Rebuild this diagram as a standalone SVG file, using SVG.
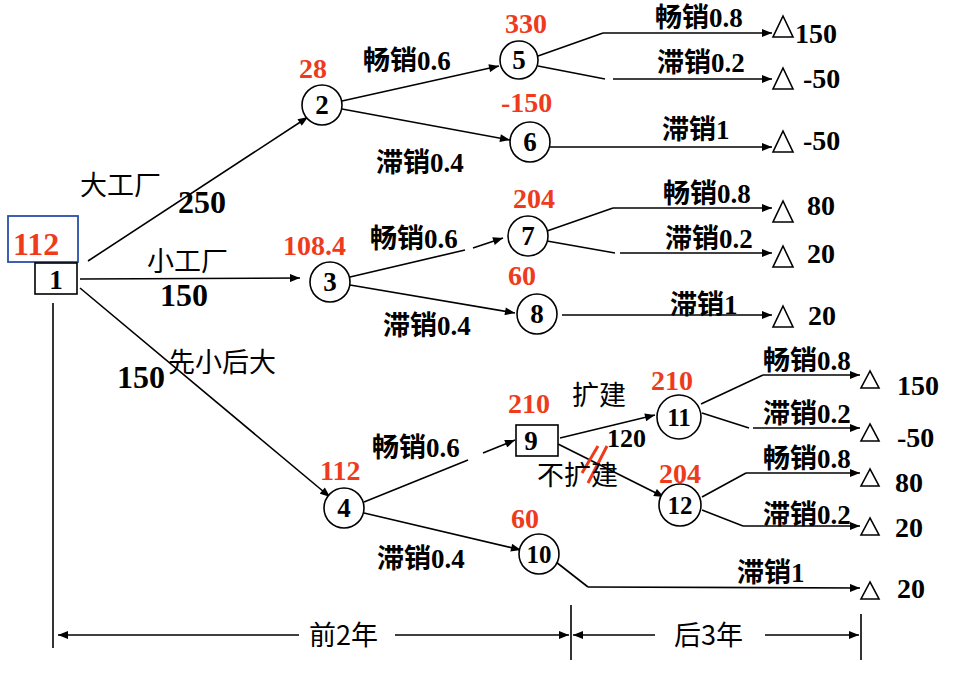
<svg xmlns="http://www.w3.org/2000/svg" width="957" height="680" viewBox="0 0 957 680">
<defs>
<marker id="ah" viewBox="0 0 10 8" refX="10" refY="4" markerWidth="11" markerHeight="8" markerUnits="userSpaceOnUse" orient="auto">
<path d="M0,0 L10,4 L0,8 Z" fill="#000"/>
</marker>
<style>
.ln{stroke:#000;stroke-width:1.6;fill:none}
.ar{stroke:#000;stroke-width:1.6;fill:none;marker-end:url(#ah)}
.nd{stroke:#000;stroke-width:1.6;fill:#fff}
.tri{stroke:#000;stroke-width:1.6;fill:#fff}
.num{font-family:"Liberation Serif","Noto Sans CJK SC",serif;font-weight:bold;font-size:27px;fill:#000;text-anchor:middle}
.lab{font-family:"Liberation Serif","Noto Sans CJK SC",serif;font-weight:bold;font-size:27px;fill:#000}
.red{font-family:"Liberation Serif",serif;font-weight:bold;font-size:28px;fill:#ee3b1c}
.big{font-family:"Liberation Serif",serif;font-weight:bold;font-size:32px;fill:#000}
.cn{font-family:"Noto Sans CJK SC",sans-serif;font-size:27px;fill:#000}
.val{font-family:"Liberation Serif",serif;font-weight:bold;font-size:28px;fill:#000}
</style>
</defs>
<rect width="957" height="680" fill="#fff"/>

<g id="connectors">
<path class="ln" d="M53,303 L53,648"/>
<path class="ar" d="M88,261 L308,117"/>
<path class="ar" d="M80,279 L300,278"/>
<path class="ar" d="M80,288 L330,497"/>
<path class="ar" d="M342,101 L499,66"/>
<path class="ar" d="M342,109 L510,140"/>
<path class="ln" d="M538,56 L603,33"/>
<path class="ar" d="M603,33 L772,33"/>
<path class="ln" d="M538,66 L605,79"/>
<path class="ar" d="M613,79 L772,79"/>
<path class="ar" d="M550,147 L772,147"/>
<path class="ln" d="M350,277 L465,250"/>
<path class="ar" d="M473,248 L503,238"/>
<path class="ar" d="M350,285 L515,313"/>
<path class="ln" d="M547,231 L613,208"/>
<path class="ar" d="M613,208 L772,208"/>
<path class="ln" d="M547,241 L615,253"/>
<path class="ar" d="M620,253 L772,253"/>
<path class="ar" d="M562,315 L772,315"/>
<path class="ln" d="M364,502 L468,460"/>
<path class="ar" d="M483,453 L515,440"/>
<path class="ar" d="M364,513 L521,550"/>
<path class="ar" d="M560,438 L655,415"/>
<path class="ar" d="M558,444 L664,497"/>
<path d="M582,473 L598,446 M588,483 L607,446" stroke="#ee3b1c" stroke-width="3" fill="none"/>
<path class="ln" d="M701,404 L763,375"/>
<path class="ar" d="M763,375 L860,375"/>
<path class="ln" d="M702,413 L749,428"/>
<path class="ar" d="M753,428 L860,428"/>
<path class="ln" d="M702,497 L746,473"/>
<path class="ar" d="M746,473 L860,473"/>
<path class="ln" d="M702,510 L743,526"/>
<path class="ar" d="M743,526 L860,526"/>
<path class="ln" d="M556,562 L588,587"/>
<path class="ar" d="M588,587 L860,588"/>
<path class="ar" d="M299,635 L58,635"/>
<path class="ar" d="M395,635 L569,635"/>
<path class="ar" d="M655,635 L573,635"/>
<path class="ar" d="M765,635 L859,635"/>
<path class="ln" d="M571,605 L571,660"/>
<path class="ln" d="M861,614 L861,660"/>
</g>

<g id="node1">
<rect x="8" y="216" width="70" height="46" fill="#fff" stroke="#2a4fa8" stroke-width="1.8"/>
<text class="red" x="13" y="255" style="font-size:32px">112</text>
<rect class="nd" x="35" y="263" width="42" height="31"/>
<text class="num" x="56" y="289">1</text>
</g>
<g id="node2"><circle class="nd" cx="322" cy="105" r="20"/><text class="num" x="322" y="114">2</text><text class="red" x="299" y="78">28</text></g>
<g id="node3"><circle class="nd" cx="330" cy="282" r="20"/><text class="num" x="330" y="291">3</text><text class="red" x="283" y="255">108.4</text></g>
<g id="node4"><circle class="nd" cx="344" cy="508" r="20"/><text class="num" x="344" y="517">4</text><text class="red" x="320" y="480">112</text></g>
<g id="node5"><circle class="nd" cx="519" cy="60" r="19"/><text class="num" x="519" y="69">5</text><text class="red" x="505" y="33">330</text></g>
<g id="node6"><circle class="nd" cx="530" cy="142" r="20"/><text class="num" x="530" y="151">6</text><text class="red" x="501" y="112">-150</text></g>
<g id="node7"><circle class="nd" cx="528" cy="236" r="20"/><text class="num" x="528" y="245">7</text><text class="red" x="513" y="208">204</text></g>
<g id="node8"><circle class="nd" cx="537" cy="314" r="20"/><text class="num" x="537" y="323">8</text><text class="red" x="508" y="285">60</text></g>
<g id="node9"><rect class="nd" x="516" y="425" width="42" height="31"/><text class="num" x="531" y="450">9</text><text class="red" x="508" y="413">210</text></g>
<g id="node10"><circle class="nd" cx="539" cy="554" r="20"/><text class="num" x="539" y="563" style="font-size:25px">10</text><text class="red" x="511" y="528">60</text></g>
<g id="node11"><circle class="nd" cx="679" cy="417" r="22"/><text class="num" x="679" y="426" style="font-size:25px">11</text><text class="red" x="651" y="390">210</text></g>
<g id="node12"><circle class="nd" cx="680" cy="505" r="21"/><text class="num" x="680" y="514" style="font-size:25px">12</text><text class="red" x="659" y="483">204</text></g>

<g id="leaves">
<polygon class="tri" points="783,16 773,37 793,37"/>
<polygon class="tri" points="783,68 773,89 793,89"/>
<polygon class="tri" points="783,131 773,152 793,152"/>
<polygon class="tri" points="783,201 773,222 793,222"/>
<polygon class="tri" points="783,246 773,267 793,267"/>
<polygon class="tri" points="783,306 773,327 793,327"/>
<polygon class="tri" points="870,371 861,388 879,388"/>
<polygon class="tri" points="870,424 861,441 879,441"/>
<polygon class="tri" points="870,469 861,486 879,486"/>
<polygon class="tri" points="870,518 861,535 879,535"/>
<polygon class="tri" points="870,582 861,599 879,599"/>
<text class="val" x="795" y="43">150</text>
<text class="val" x="803" y="88">-50</text>
<text class="val" x="803" y="150">-50</text>
<text class="val" x="807" y="215">80</text>
<text class="val" x="807" y="263">20</text>
<text class="val" x="808" y="325">20</text>
<text class="val" x="897" y="395">150</text>
<text class="val" x="897" y="447">-50</text>
<text class="val" x="895" y="492">80</text>
<text class="val" x="895" y="537">20</text>
<text class="val" x="897" y="598">20</text>
</g>

<g id="labels">
<text class="cn" x="80" y="195">大工厂</text>
<text class="big" x="178" y="213">250</text>
<text class="cn" x="147" y="271">小工厂</text>
<text class="big" x="160" y="306">150</text>
<text class="cn" x="168" y="372">先小后大</text>
<text class="big" x="117" y="388">150</text>
<text class="lab" x="363" y="70">畅销0.6</text>
<text class="lab" x="376" y="172">滞销0.4</text>
<text class="lab" x="370" y="248">畅销0.6</text>
<text class="lab" x="383" y="335">滞销0.4</text>
<text class="lab" x="372" y="457">畅销0.6</text>
<text class="lab" x="377" y="568">滞销0.4</text>
<text class="lab" x="655" y="27">畅销0.8</text>
<text class="lab" x="657" y="72">滞销0.2</text>
<text class="lab" x="662" y="139">滞销1</text>
<text class="lab" x="663" y="203">畅销0.8</text>
<text class="lab" x="665" y="248">滞销0.2</text>
<text class="lab" x="670" y="314">滞销1</text>
<text class="lab" x="763" y="370">畅销0.8</text>
<text class="lab" x="763" y="423">滞销0.2</text>
<text class="lab" x="763" y="468">畅销0.8</text>
<text class="lab" x="763" y="524">滞销0.2</text>
<text class="lab" x="737" y="582">滞销1</text>
<text class="cn" x="572" y="405">扩建</text>
<text class="val" x="607" y="447" style="font-size:26px">120</text>
<text class="cn" x="537" y="485">不扩建</text>
<text class="cn" x="309" y="645">前2年</text>
<text class="cn" x="674" y="645">后3年</text>
</g>
</svg>
